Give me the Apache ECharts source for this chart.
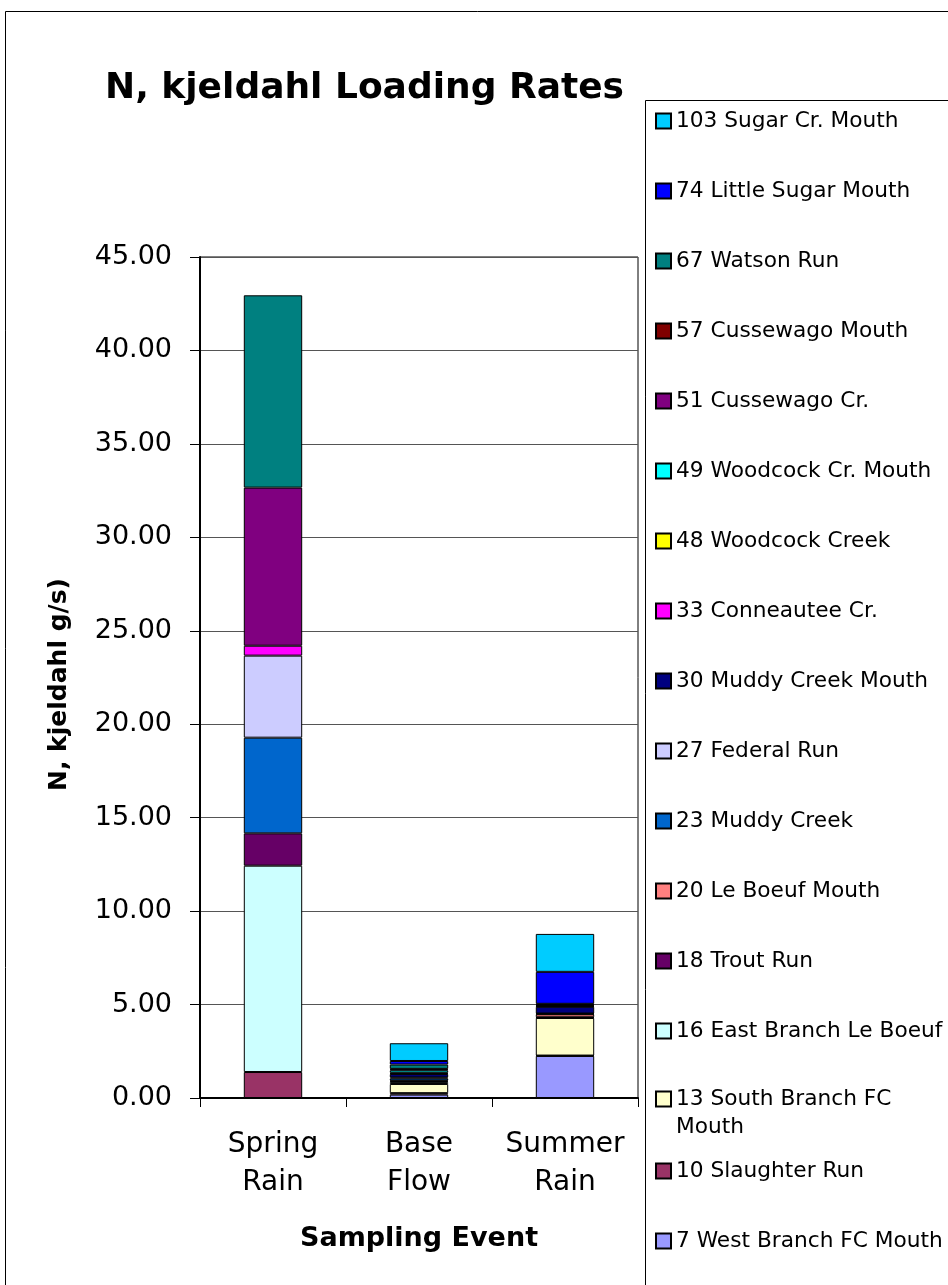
<!DOCTYPE html>
<html>
<head>
<meta charset="utf-8">
<script src="https://cdn.jsdelivr.net/npm/echarts@6/dist/echarts.min.js"></script>
<style>
  html, body { margin: 0; padding: 0; background: #fff; }
  #chart { width: 948px; height: 1285px; }
</style>
</head>
<body>
<div id="chart"></div>
<script>
// Sampling events (x categories)
const categories = ['Spring Rain', 'Base Flow', 'Summer Rain'];

// Y-axis ticks
const yTicks = [0, 5, 10, 15, 20, 25, 30, 35, 40, 45];

// Stations, bottom of the stack first
const stationNames = [
  '7 West Branch FC Mouth',
  '10 Slaughter Run',
  '13 South Branch FC Mouth',
  '16 East Branch Le Boeuf',
  '18 Trout Run',
  '20 Le Boeuf Mouth',
  '23 Muddy Creek',
  '27 Federal Run',
  '30 Muddy Creek Mouth',
  '33 Conneautee Cr.',
  '48 Woodcock Creek',
  '49 Woodcock Cr. Mouth',
  '51 Cussewago Cr.',
  '57 Cussewago Mouth',
  '67 Watson Run',
  '74 Little Sugar Mouth',
  '103 Sugar Cr. Mouth'
];

// N, kjeldahl loading (g/s) per station: [Spring Rain, Base Flow, Summer Rain]
const westBranchFCMouth   = [0,     0.18, 2.25];
const slaughterRun        = [1.39,  0.08, 0.02];
const southBranchFCMouth  = [0,     0.49, 2.01];
const eastBranchLeBoeuf   = [11.04, 0.10, 0.02];
const troutRun            = [1.73,  0.05, 0.02];
const leBoeufMouth        = [0,     0.03, 0.16];
const muddyCreek          = [5.12,  0.12, 0.02];
const federalRun          = [4.39,  0.05, 0.02];
const muddyCreekMouth     = [0,     0.18, 0.36];
const conneauteeCr        = [0.53,  0.03, 0.02];
const woodcockCreek       = [0,     0.04, 0.02];
const woodcockCrMouth     = [0,     0.13, 0.02];
const cussewagoCr         = [8.46,  0.05, 0.05];
const cussewagoMouth      = [0,     0.03, 0.02];
const watsonRun           = [10.29, 0.23, 0.03];
const littleSugarMouth    = [0,     0.19, 1.71];
const sugarCrMouth        = [0,     0.95, 2.03];

const stationValues = [
  westBranchFCMouth, slaughterRun, southBranchFCMouth, eastBranchLeBoeuf,
  troutRun, leBoeufMouth, muddyCreek, federalRun, muddyCreekMouth,
  conneauteeCr, woodcockCreek, woodcockCrMouth, cussewagoCr,
  cussewagoMouth, watsonRun, littleSugarMouth, sugarCrMouth
];

// Fill colours, same order as stationNames
const stationColors = [
  '#9999FF', '#993366', '#FFFFCC', '#CCFFFF', '#660066', '#FF8080',
  '#0066CC', '#CCCCFF', '#000080', '#FF00FF', '#FFFF00', '#00FFFF',
  '#800080', '#800000', '#008080', '#0000FF', '#00CCFF'
];

const FONT = 'DejaVu Sans';
const WRAPPED = '13 South Branch FC Mouth';

const series = stationNames.map((name, i) => ({
  name: name,
  type: 'bar',
  stack: 'total',
  barWidth: '40%',
  data: stationValues[i].map(v => (v === 0 ? null : v)),
  itemStyle: { color: stationColors[i], borderColor: '#000', borderWidth: 1 },
  emphasis: { disabled: true },
  animation: false
}));

// Legend: one entry per row, top entry is the top of the stack
const legendOrder = stationNames.slice().reverse();
const legends = legendOrder.map((name, i) => {
  const wrapped = name === WRAPPED;
  const centerY = 118 + i * 70;
  return {
    data: [{ name: name, icon: 'rect' }],
    orient: 'vertical',
    left: 655,
    top: wrapped ? centerY - 41 : centerY - 8,
    itemWidth: 15,
    itemHeight: 15,
    padding: 0,
    selectedMode: false,
    // the long name wraps onto a second line under its first line
    formatter: n => (n === WRAPPED ? '\n13 South Branch FC\nMouth' : n),
    textStyle: Object.assign(
      { fontFamily: FONT, fontSize: 21.7, color: '#000' },
      wrapped ? { lineHeight: 28 } : {}
    )
  };
});

const chart = echarts.init(document.getElementById('chart'), null, { renderer: 'canvas' });
chart.setOption({
  backgroundColor: '#fff',
  animation: false,
  title: {
    text: 'N, kjeldahl Loading Rates',
    left: 105,
    top: 71,
    padding: 0,
    textStyle: { fontFamily: FONT, fontSize: 36, fontWeight: 'bold', color: '#000' }
  },
  legend: legends,
  grid: {
    left: 200, top: 257, right: 310, bottom: 187,
    show: true, borderColor: '#000', borderWidth: 1, backgroundColor: '#fff'
  },
  xAxis: {
    type: 'category',
    data: categories,
    name: 'Sampling Event',
    nameLocation: 'middle',
    nameGap: 127,
    nameTextStyle: { fontFamily: FONT, fontSize: 27, fontWeight: 'bold', color: '#000' },
    axisLine: { lineStyle: { color: '#000', width: 2 } },
    axisTick: { show: true, interval: 0, length: 9, alignWithLabel: false, lineStyle: { color: '#000' } },
    axisLabel: {
      interval: 0,
      margin: 28,
      fontFamily: FONT, fontSize: 28, lineHeight: 38, color: '#000',
      formatter: v => v.replace(' ', '\n')
    }
  },
  yAxis: {
    type: 'value',
    min: yTicks[0],
    max: yTicks[yTicks.length - 1],
    interval: yTicks[1] - yTicks[0],
    name: 'N, kjeldahl g/s)',
    nameLocation: 'middle',
    nameRotate: 90,
    nameGap: 128,
    nameTextStyle: { fontFamily: FONT, fontSize: 25, fontWeight: 'bold', color: '#000', padding: [0, 14, 0, 0] },
    axisLine: { show: true, lineStyle: { color: '#000', width: 2 } },
    axisTick: { show: true, length: 10, lineStyle: { color: '#000' } },
    axisLabel: {
      margin: 28,
      fontFamily: FONT, fontSize: 27, color: '#000',
      formatter: v => v.toFixed(2)
    },
    splitLine: { show: true, lineStyle: { color: '#555', width: 1 } }
  },
  graphic: [
    // chart frame
    { type: 'rect', z: -1, shape: { x: 5.5, y: 11.5, width: 1000, height: 1400 },
      style: { fill: 'none', stroke: '#000', lineWidth: 1 } },
    // legend frame
    { type: 'rect', z: -1, shape: { x: 645.5, y: 100.5, width: 400, height: 1300 },
      style: { fill: '#fff', stroke: '#000', lineWidth: 1 } }
  ],
  series: series
});
</script>
</body>
</html>
